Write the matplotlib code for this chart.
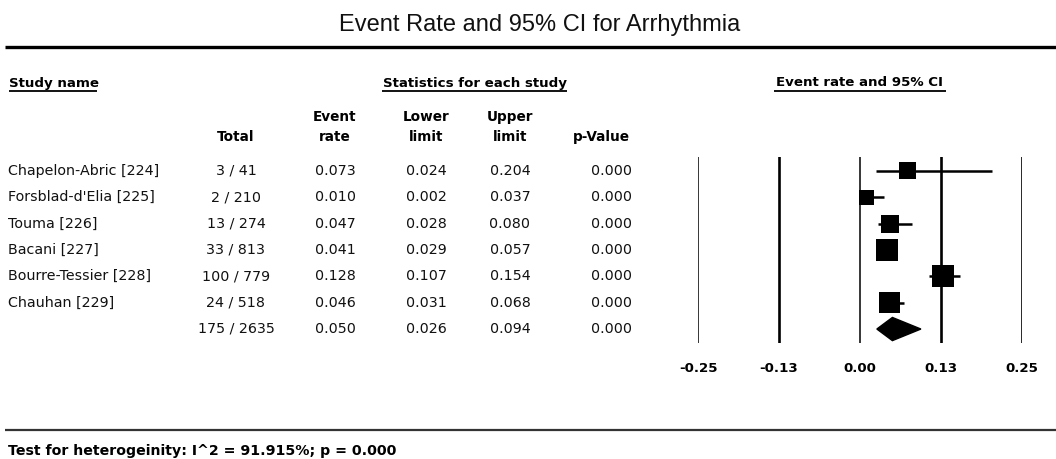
import matplotlib
matplotlib.use("Agg")
import matplotlib.pyplot as plt
import numpy as np
from matplotlib.patches import Polygon

# ---- data ----
studies = ["Chapelon-Abric [224]", "Forsblad-d'Elia [225]", "Touma [226]",
           "Bacani [227]", "Bourre-Tessier [228]", "Chauhan [229]"]
events = [3, 2, 13, 33, 100, 24]
totals = [41, 210, 274, 813, 779, 518]
event_rate = [0.073, 0.010, 0.047, 0.041, 0.128, 0.046]
lower = [0.024, 0.002, 0.028, 0.029, 0.107, 0.031]
upper = [0.204, 0.037, 0.080, 0.057, 0.154, 0.068]
p_values = [0.000, 0.000, 0.000, 0.000, 0.000, 0.000]
weights = [12.9, 10.0, 14.4, 21.5, 21.5, 19.6]  # relative weight (%)

pooled_events, pooled_total = 175, 2635
pooled_rate, pooled_lower, pooled_upper, pooled_p = 0.050, 0.026, 0.094, 0.000
i2, het_p = 91.915, 0.000

ticks = [-0.25, -0.125, 0.0, 0.125, 0.25]
tick_labels = ["-0.25", "-0.13", "0.00", "0.13", "0.25"]

# ---- fonts ----
arial = ["Liberation Sans", "DejaVu Sans"]
sans = ["DejaVu Sans"]

W, H = 1056, 459
fig = plt.figure(figsize=(W / 100, H / 100), dpi=100)
fig.patch.set_facecolor("white")

# background axes in pixel units for the table part
bg = fig.add_axes([0, 0, 1, 1])
bg.set_xlim(0, W)
bg.set_ylim(H, 0)
bg.axis("off")

bg.text(540, 25, "Event Rate and 95% CI for Arrhythmia", ha="center", va="center",
        fontsize=17, family=arial, color="#111111")
bg.plot([5, W], [47, 47], color="black", lw=2.4, solid_capstyle="butt")

# group headers (bold, underlined)
def header(x, y, s, ha, x0, x1):
    bg.text(x, y, s, ha=ha, va="center", fontsize=9.6, fontweight="bold", family=sans)
    bg.plot([x0, x1], [y + 8, y + 8], color="black", lw=1.3, solid_capstyle="butt")

header(9, 83, "Study name", "left", 9, 97)
header(475, 83, "Statistics for each study", "center", 382, 567)
header(860, 83, "Event rate and 95% CI", "center", 774, 946)

col_x = {"total": 236, "rate": 335, "lower": 426, "upper": 510, "p": 611}
hdr_kw = dict(ha="center", va="center", fontsize=9.8, fontweight="bold", family=sans)
bg.text(col_x["total"], 137, "Total", **hdr_kw)
bg.text(col_x["rate"], 117, "Event", **hdr_kw)
bg.text(col_x["rate"], 137, "rate", **hdr_kw)
bg.text(col_x["lower"], 117, "Lower", **hdr_kw)
bg.text(col_x["lower"], 137, "limit", **hdr_kw)
bg.text(col_x["upper"], 117, "Upper", **hdr_kw)
bg.text(col_x["upper"], 137, "limit", **hdr_kw)
bg.text(601, 137, "p-Value", **hdr_kw)

row_y0, row_dy = 171, 26.33
row_kw = dict(va="center", fontsize=10.3, family=sans, color="#111111")
for i, name in enumerate(studies):
    y = row_y0 + i * row_dy
    bg.text(8, y, name, ha="left", **row_kw)
    bg.text(col_x["total"], y, f"{events[i]} / {totals[i]}", ha="center", **row_kw)
    bg.text(col_x["rate"], y, f"{event_rate[i]:.3f}", ha="center", **row_kw)
    bg.text(col_x["lower"], y, f"{lower[i]:.3f}", ha="center", **row_kw)
    bg.text(col_x["upper"], y, f"{upper[i]:.3f}", ha="center", **row_kw)
    bg.text(col_x["p"], y, f"{p_values[i]:.3f}", ha="center", **row_kw)

y = row_y0 + len(studies) * row_dy
bg.text(col_x["total"], y, f"{pooled_events} / {pooled_total}", ha="center", **row_kw)
bg.text(col_x["rate"], y, f"{pooled_rate:.3f}", ha="center", **row_kw)
bg.text(col_x["lower"], y, f"{pooled_lower:.3f}", ha="center", **row_kw)
bg.text(col_x["upper"], y, f"{pooled_upper:.3f}", ha="center", **row_kw)
bg.text(col_x["p"], y, f"{pooled_p:.3f}", ha="center", **row_kw)

bg.plot([5, W], [430, 430], color="#333333", lw=1.6, solid_capstyle="butt")
bg.text(8, 451, f"Test for heterogeinity: I^2 = {i2:.3f}%; p = {het_p:.3f}",
        ha="left", va="center", fontsize=10.2, fontweight="bold", family=sans)

# ---- forest plot ----
left, right, top, bottom = 698, 1022, 157, 343
ax = fig.add_axes([left / W, 1 - bottom / H, (right - left) / W, (bottom - top) / H])
ax.set_xlim(-0.25, 0.25)
n = len(studies)
ax.set_ylim(n + 0.53, -0.53)
ax.patch.set_alpha(0)
for s in ax.spines.values():
    s.set_visible(False)

for t in ticks:
    lw = 1.1 if t in (-0.25, 0.0) else 1.9
    ax.axvline(t, color="black", lw=lw, zorder=1)

rows = np.arange(n)
ax.hlines(rows, lower, upper, color="black", lw=1.8, zorder=2)
side_px = 22 * np.sqrt(np.array(weights) / max(weights))
ax.scatter(event_rate, rows, marker="s", s=(side_px * 0.72) ** 2,
           color="black", linewidths=0, zorder=3)

h = 0.44
diamond = Polygon([(pooled_lower, n), (pooled_rate, n - h), (pooled_upper, n), (pooled_rate, n + h)],
                  closed=True, color="black", zorder=3)
ax.add_patch(diamond)

ax.set_yticks([])
ax.set_xticks(ticks)
ax.set_xticklabels(tick_labels, fontsize=9.6, fontweight="bold", family=sans)
ax.tick_params(axis="x", length=0, pad=14)

fig.savefig("out.png", dpi=100)
